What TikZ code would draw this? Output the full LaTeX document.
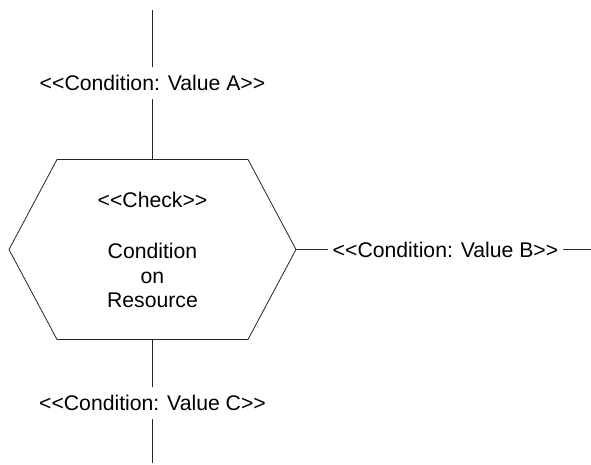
\documentclass[tikz,border=0pt]{standalone}
\usepackage{fontspec}
\setmainfont{Liberation Sans}
% keep "<<" and ">>" as two separate signs
\newcommand{\stereoOpen}{<\kern0pt<}
\newcommand{\stereoClose}{>\kern0pt>}
\begin{document}
\begin{tikzpicture}[x=1pt,y=1pt,
  wire/.style={draw=black!85,line width=0.8pt},
  condlabel/.style={inner xsep=5pt,inner ysep=8pt,anchor=base,
    font=\fontsize{21.2}{24.4}\selectfont},
  checktext/.style={inner sep=0pt,align=center,
    font=\fontsize{21.2}{24.4}\selectfont}]
\useasboundingbox (0,0) rectangle (591,464);

% hexagon corners
\coordinate (hexL)  at (9,214.5);
\coordinate (hexTL) at (57,304.5);
\coordinate (hexTR) at (248,304.5);
\coordinate (hexR)  at (296,214.5);
\coordinate (hexBR) at (248,124.5);
\coordinate (hexBL) at (57,124.5);
\coordinate (hexT)  at (152.5,304.5);
\coordinate (hexB)  at (152.5,124.5);

\draw[wire] (hexL) -- (hexTL) -- (hexTR) -- (hexR) -- (hexBR) -- (hexBL) -- cycle;
\node[checktext] (check) at (152.5,214.1)
  {\stereoOpen Check\stereoClose\\[27.2pt]Condition\\on\\Resource};

% condition labels
\node[condlabel] (valA) at (152.5,373.3) {\stereoOpen Condition: Value A\stereoClose};
\node[condlabel] (valB) at (445.5,206.3) {\stereoOpen Condition: Value B\stereoClose};
\node[condlabel] (valC) at (152.5,53.3) {\stereoOpen Condition: Value C\stereoClose};

% free ends of the flow lines
\coordinate (inTop)    at (152.5,454);
\coordinate (outRight) at (591,214.5);
\coordinate (outBot)   at (152.5,1);

\draw[wire] (inTop) -- (valA.north);
\draw[wire] (valA.south) -- (hexT);
\draw[wire] (hexR) -- (hexR -| valB.west);
\draw[wire] (hexR -| valB.east) -- (outRight);
\draw[wire] (hexB) -- (valC.north);
\draw[wire] (valC.south) -- (outBot);
\end{tikzpicture}
\end{document}
